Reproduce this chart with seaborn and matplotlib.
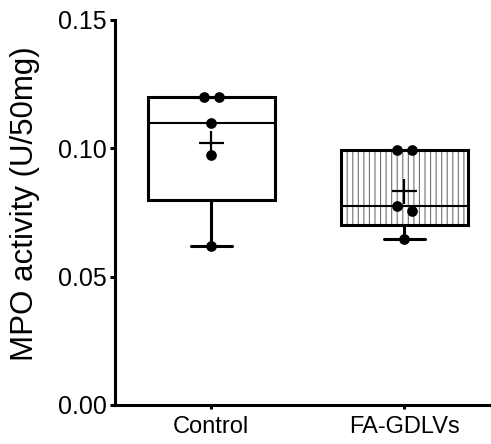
import numpy as np
import pandas as pd
import matplotlib
matplotlib.use("Agg")
import matplotlib.pyplot as plt
from matplotlib.patches import PathPatch
import seaborn as sns

# Measured MPO activity per animal
groups = ["Control", "FA-GDLVs"]
control = [0.120, 0.120, 0.110, 0.0975, 0.062]
fa_gdlvs = [0.0995, 0.0995, 0.0777, 0.0756, 0.0647]
y_ticks = [0.00, 0.05, 0.10, 0.15]
y_label = "MPO activity (U/50mg)"

df = pd.DataFrame({
    "group": np.repeat(groups, [len(control), len(fa_gdlvs)]),
    "value": control + fa_gdlvs,
})

sns.set_style("ticks")
plt.rcParams["font.family"] = ["Liberation Sans", "DejaVu Sans"]
plt.rcParams["hatch.linewidth"] = 0.8
for key in ("axes.edgecolor", "xtick.color", "ytick.color",
            "text.color", "axes.labelcolor"):
    plt.rcParams[key] = "black"

fig, ax = plt.subplots(figsize=(4.91, 4.44), dpi=100)
fig.subplots_adjust(left=0.234, right=1.0, bottom=0.088, top=0.955)

LW = 2.2
positions = np.arange(len(groups))

# Box statistics with (n+1)-based quartiles, whiskers from min to max
stats = []
for name in groups:
    vals = df.loc[df["group"] == name, "value"].to_numpy()
    q1, q3 = np.percentile(vals, [25, 75], method="weibull")
    stats.append(dict(med=np.median(vals), q1=q1, q3=q3,
                      whislo=vals.min(), whishi=vals.max(),
                      mean=vals.mean(), fliers=[], label=name))

bp = ax.bxp(stats, positions=positions, widths=0.66, capwidths=0.213,
            showfliers=False, patch_artist=True, manage_ticks=False,
            boxprops=dict(facecolor="none", edgecolor="black", linewidth=LW),
            medianprops=dict(color="black", linewidth=1.5),
            whiskerprops=dict(color="black", linewidth=LW),
            capprops=dict(color="black", linewidth=LW),
            zorder=2)

# White fill under each box, vertical hatching for the treated group
for i, box in enumerate(bp["boxes"]):
    under = PathPatch(box.get_path(), transform=box.get_transform(),
                      facecolor="white", edgecolor="#707070", linewidth=0,
                      hatch="|||" if i == 1 else None, zorder=1)
    ax.add_patch(under)

# Group mean as a plus sign
sns.pointplot(data=df, x="group", y="value", order=groups, estimator="mean",
              errorbar=None, markers="+", linestyles="none", color="black",
              markersize=18, markeredgewidth=1.6, ax=ax, zorder=3)

ax.set_xlim(-0.5, 1.45)
ax.set_ylim(0, 0.15)
ax.set_yticks(y_ticks)
ax.set_yticklabels([f"{t:.2f}" for t in y_ticks])
ax.set_xticks(positions)
ax.set_xticklabels(groups)

# Spread tied points sideways in symmetric rows, like a column scatter
dot_pt = 7.7
fig.canvas.draw()
px_per_y = ax.transData.transform((0, 1))[1] - ax.transData.transform((0, 0))[1]
px_per_x = ax.transData.transform((1, 0))[0] - ax.transData.transform((0, 0))[0]
dot_px = dot_pt * fig.dpi / 72
xs, ys = [], []
for gi, name in enumerate(groups):
    vals = np.sort(df.loc[df["group"] == name, "value"].to_numpy())[::-1]
    rows, current = [], [vals[0]]
    for v in vals[1:]:
        if (current[0] - v) * px_per_y < dot_px:
            current.append(v)
        else:
            rows.append(current)
            current = [v]
    rows.append(current)
    step = 1.4 * dot_px / px_per_x
    for row in rows:
        k = len(row)
        for j, v in enumerate(row):
            xs.append(gi + (j - (k - 1) / 2) * step)
            ys.append(v)

sns.scatterplot(x=xs, y=ys, color="black", s=dot_pt ** 2, linewidth=0,
                ax=ax, zorder=4, legend=False)

ax.set_xlim(-0.5, 1.45)
ax.set_ylim(0, 0.15)
ax.set_xlabel("")
ax.set_ylabel(y_label, fontsize=22.5)
ax.yaxis.set_label_coords(-0.198, 0.522)

sns.despine(ax=ax)
for s in ("left", "bottom"):
    ax.spines[s].set_linewidth(LW)
ax.tick_params(axis="y", direction="out", length=3.8, width=LW, labelsize=18, pad=2)
ax.tick_params(axis="x", direction="out", length=3.0, width=LW, labelsize=17, pad=5)

fig.savefig("out.png", dpi=100)
